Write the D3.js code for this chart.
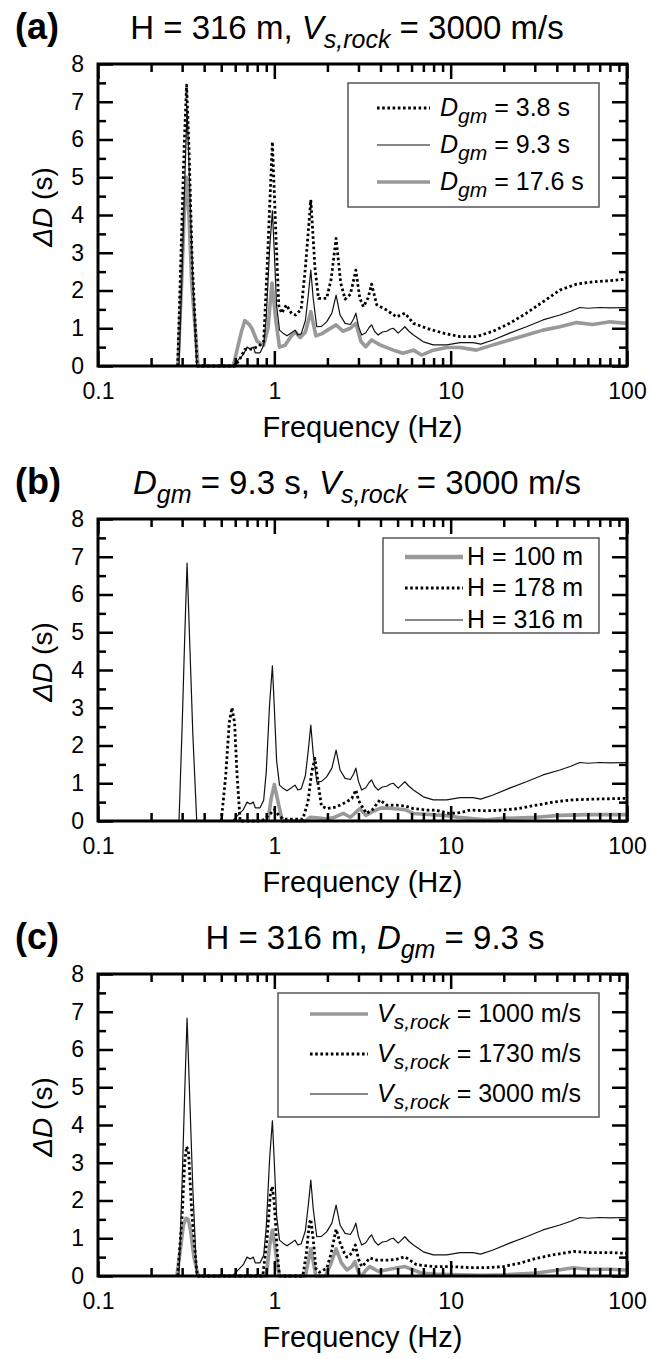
<!DOCTYPE html>
<html>
<head>
<meta charset="utf-8">
<script src="https://cdn.jsdelivr.net/npm/d3@7"></script>
<style>
  body { margin: 0; background: #fff; }
  svg { display: block; font-family: "Liberation Sans", Arial, sans-serif; }
  text { white-space: pre; }
</style>
</head>
<body>
<svg id="chart" width="652" height="1359"></svg>
<script>
/* global d3 */

// ---- data: [frequency (Hz), delta D (s)] ----
// H = 316 m, Dgm = 9.3 s, Vs,rock = 3000 m/s (same run appears in all three panels)
const base316 = [
  [0.288, 0], [0.300, 2.5], [0.310, 4.8], [0.320, 6.83], [0.332, 4.6], [0.345, 2.3], [0.363, 0],
  [0.58, 0], [0.62, 0.15], [0.667, 0.3], [0.70, 0.5], [0.73, 0.45], [0.76, 0.5], [0.78, 0.35],
  [0.83, 0.35], [0.87, 0.55], [0.90, 1.3], [0.94, 3.1], [0.975, 4.11], [1.0, 3.0], [1.03, 1.6],
  [1.07, 0.95], [1.12, 0.87], [1.18, 0.8], [1.25, 0.88], [1.31, 0.95], [1.36, 0.82], [1.42, 0.85],
  [1.5, 1.2], [1.56, 1.9], [1.61, 2.54], [1.66, 1.8], [1.74, 1.04], [1.85, 1.05], [1.98, 1.17],
  [2.12, 1.4], [2.24, 1.88], [2.36, 1.35], [2.52, 1.13], [2.7, 1.1], [2.82, 1.25], [2.9, 1.40],
  [3.0, 1.05], [3.13, 0.82], [3.3, 0.88], [3.45, 1.02], [3.56, 1.09], [3.7, 0.92], [3.88, 0.82],
  [4.1, 0.9], [4.34, 0.92], [4.55, 0.98], [4.73, 1.0], [5.04, 0.87], [5.25, 0.95], [5.5, 1.04],
  [5.8, 0.92], [6.15, 0.82], [7.0, 0.64], [7.97, 0.56], [9.5, 0.56], [11.3, 0.62], [13.4, 0.62],
  [14.8, 0.58], [17.4, 0.69], [21.6, 0.87], [26.9, 1.04], [33.4, 1.22], [41.6, 1.35], [48, 1.45],
  [54, 1.55], [60, 1.53], [70, 1.55], [80, 1.54], [100, 1.55]
];

// panel (a)
const dgm38 = [
  [0.283, 0], [0.295, 2.8], [0.308, 5.8], [0.318, 7.44], [0.328, 5.8], [0.342, 2.8], [0.365, 0],
  [0.60, 0], [0.64, 0.2], [0.68, 0.44], [0.75, 0.45], [0.82, 0.53], [0.87, 0.65], [0.91, 2.6],
  [0.975, 5.94], [1.02, 3.5], [1.06, 1.6], [1.1, 1.4], [1.17, 1.62], [1.25, 1.4], [1.32, 1.35],
  [1.42, 1.5], [1.5, 2.6], [1.61, 4.4], [1.7, 2.6], [1.78, 1.79], [1.98, 1.79], [2.1, 2.3],
  [2.24, 3.38], [2.38, 2.2], [2.52, 1.77], [2.7, 1.9], [2.9, 2.54], [3.05, 1.8], [3.2, 1.57],
  [3.4, 1.8], [3.56, 2.17], [3.81, 1.62], [4.34, 1.48], [4.93, 1.30], [5.5, 1.40], [6.15, 1.13],
  [7.3, 1.0], [9.1, 0.87], [11.3, 0.78], [14.0, 0.78], [17.4, 0.92], [21.6, 1.13], [26.9, 1.40],
  [33.4, 1.70], [41.6, 2.01], [51.8, 2.17], [64.5, 2.23], [80, 2.26], [100, 2.3]
];
const dgm176 = [
  [0.284, 0], [0.298, 2.2], [0.308, 4.0], [0.318, 5.0], [0.328, 4.0], [0.34, 2.2], [0.369, 0],
  [0.585, 0], [0.62, 0.5], [0.65, 0.9], [0.68, 1.2], [0.72, 1.1], [0.745, 1.0], [0.80, 0.65],
  [0.87, 0.55], [0.92, 1.0], [0.97, 2.2], [1.02, 1.2], [1.07, 0.5], [1.15, 0.55], [1.25, 0.8],
  [1.32, 0.9], [1.4, 0.75], [1.5, 0.9], [1.61, 1.44], [1.72, 0.8], [1.85, 0.85], [2.0, 0.95],
  [2.24, 1.09], [2.45, 0.92], [2.7, 1.0], [2.9, 1.13], [3.1, 0.65], [3.3, 0.51], [3.56, 0.69],
  [3.97, 0.56], [4.73, 0.42], [5.35, 0.34], [6.15, 0.42], [6.83, 0.29], [7.97, 0.42], [9.5, 0.49],
  [11.3, 0.49], [14.0, 0.42], [17.4, 0.56], [21.6, 0.69], [26.9, 0.82], [33.4, 0.95], [41.6, 1.04],
  [51.8, 1.15], [64, 1.1], [80, 1.17], [100, 1.13]
];

// panel (b)
const h100 = [
  [0.92, 0], [0.96, 0.6], [1.0, 0.97], [1.05, 0.5], [1.11, 0], [1.5, 0], [1.6, 0.1], [1.8, 0.08],
  [2.0, 0.05], [2.2, 0.1], [2.46, 0.2], [2.7, 0.1], [3.06, 0.33], [3.3, 0.15], [3.6, 0.25],
  [4.0, 0.34], [4.5, 0.34], [5.0, 0.32], [5.5, 0.3], [6.15, 0.2], [9.1, 0.15], [11, 0.1],
  [15.9, 0.03], [20, 0.07], [30.7, 0.1], [41.6, 0.15], [60, 0.17], [100, 0.17]
];
const h178 = [
  [0.50, 0], [0.53, 1.2], [0.555, 2.6], [0.575, 3.0], [0.595, 2.6], [0.615, 1.2], [0.64, 0],
  [0.85, 0], [0.93, 0.15], [1.0, 0.3], [1.06, 0.15], [1.12, 0.05], [1.45, 0.05], [1.55, 0.5],
  [1.63, 1.3], [1.70, 1.66], [1.77, 1.0], [1.85, 0.4], [1.98, 0.33], [2.24, 0.37], [2.58, 0.51],
  [2.75, 0.6], [2.9, 0.82], [3.0, 0.55], [3.13, 0.4], [3.33, 0.2], [3.6, 0.3], [3.97, 0.56],
  [4.34, 0.42], [4.93, 0.42], [5.5, 0.4], [6.15, 0.33], [7.3, 0.29], [8.2, 0.29], [9.8, 0.2],
  [11.3, 0.22], [12.9, 0.29], [15.9, 0.27], [19.8, 0.29], [24.4, 0.33], [30.7, 0.42], [37.9, 0.5],
  [49, 0.56], [64.5, 0.58], [100, 0.6]
];

// panel (c)
const vs1000 = [
  [0.28, 0], [0.295, 0.8], [0.305, 1.35], [0.315, 1.53], [0.325, 1.5], [0.335, 1.2], [0.35, 0.5],
  [0.37, 0], [0.9, 0], [0.94, 0.8], [0.975, 1.22], [1.0, 0.9], [1.04, 0.3], [1.07, 0], [1.5, 0],
  [1.56, 0.4], [1.61, 0.72], [1.66, 0.4], [1.72, 0], [1.95, 0], [2.1, 0.35], [2.24, 0.72],
  [2.4, 0.35], [2.58, 0.16], [2.75, 0.25], [2.86, 0.38], [3.0, 0.1], [3.13, 0], [3.3, 0.15],
  [3.48, 0.25], [3.9, 0.12], [4.5, 0.18], [5.5, 0.25], [6.8, 0.08], [8, 0.05], [10, 0.04],
  [15, 0.02], [20, 0.03], [30.7, 0.08], [40, 0.15], [49.7, 0.22], [60, 0.18], [80, 0.18], [100, 0.16]
];
const vs1730 = [
  [0.283, 0], [0.30, 1.6], [0.31, 3.0], [0.318, 3.43], [0.326, 3.3], [0.34, 1.7], [0.365, 0],
  [0.86, 0], [0.91, 1.0], [0.95, 2.2], [0.975, 2.37], [1.0, 1.9], [1.04, 0.6], [1.07, 0],
  [1.45, 0], [1.52, 0.6], [1.58, 1.4], [1.61, 1.5], [1.66, 1.0], [1.72, 0.2], [1.8, 0.1],
  [1.98, 0.2], [2.1, 0.6], [2.24, 1.24], [2.35, 0.9], [2.5, 0.6], [2.58, 0.5], [2.75, 0.6],
  [2.88, 0.82], [3.0, 0.45], [3.13, 0.25], [3.3, 0.35], [3.48, 0.48], [3.81, 0.42], [4.5, 0.42],
  [5.0, 0.45], [5.5, 0.51], [6.4, 0.3], [7.97, 0.25], [10.2, 0.25], [12.9, 0.22], [16, 0.22],
  [19.9, 0.25], [24.7, 0.34], [30.7, 0.47], [38.1, 0.56], [49.7, 0.65], [62, 0.62], [80, 0.62],
  [100, 0.6]
];

// ---- ticks ----
const X_MAJOR = [0.1, 1, 10, 100];
const X_MINOR = [2, 3, 4, 5, 6, 7, 8, 9].flatMap(d => [d / 10, d, d * 10]);
const Y_MAJOR = [0, 1, 2, 3, 4, 5, 6, 7, 8];
const Y_MINOR = [0.5, 1.5, 2.5, 3.5, 4.5, 5.5, 6.5, 7.5];

// ---- layout ----
const X_LEFT = 98;
const X_RIGHT = 627;
const PANEL_H = 302;
const FONT = {tick: 23, axis: 29, title: 33, titleSub: 25, tag: 36, legend: 25, legendSub: 21};

const STYLE = {
  dotted: {stroke: '#000', width: 2.8, dash: '2.6,2.6'},
  thin: {stroke: '#111', width: 1.2, dash: null},
  gray: {stroke: '#999', width: 3.6, dash: null}
};

const panels = [
  {
    tag: '(a)', top: 64, titleX: 347,
    title: [{t: 'H = 316 m, '}, {t: 'V', i: true}, {t: 's,rock', i: true, sub: true}, {t: ' = 3000 m/s'}],
    series: [
      {data: dgm176, style: 'gray'},
      {data: dgm38, style: 'dotted'},
      {data: base316, style: 'thin'}
    ],
    legend: {x0: 348, x1: 599, y0: 19, y1: 143, lineX: [377, 430], textX: 440, rows: [44, 81, 118]},
    entries: [
      {style: 'dotted', label: [{t: 'D', i: true}, {t: 'gm', i: true, sub: true}, {t: ' = 3.8 s'}]},
      {style: 'thin', label: [{t: 'D', i: true}, {t: 'gm', i: true, sub: true}, {t: ' = 9.3 s'}]},
      {style: 'gray', label: [{t: 'D', i: true}, {t: 'gm', i: true, sub: true}, {t: ' = 17.6 s'}]}
    ]
  },
  {
    tag: '(b)', top: 519, titleX: 357,
    title: [{t: 'D', i: true}, {t: 'gm', i: true, sub: true}, {t: ' = 9.3 s, '}, {t: 'V', i: true},
      {t: 's,rock', i: true, sub: true}, {t: ' = 3000 m/s'}],
    series: [
      {data: h100, style: 'gray'},
      {data: h178, style: 'dotted'},
      {data: base316, style: 'thin'}
    ],
    legend: {x0: 383, x1: 599, y0: 19, y1: 114, lineX: [405, 463], textX: 467, rows: [38, 69, 101]},
    entries: [
      {style: 'gray', thick: true, label: [{t: 'H = 100 m'}]},
      {style: 'dotted', label: [{t: 'H = 178 m'}]},
      {style: 'thin', label: [{t: 'H = 316 m'}]}
    ]
  },
  {
    tag: '(c)', top: 974, titleX: 375,
    title: [{t: 'H = 316 m, '}, {t: 'D', i: true}, {t: 'gm', i: true, sub: true}, {t: ' = 9.3 s'}],
    series: [
      {data: vs1000, style: 'gray'},
      {data: vs1730, style: 'dotted'},
      {data: base316, style: 'thin'}
    ],
    legend: {x0: 278, x1: 599, y0: 19, y1: 143, lineX: [310, 368], textX: 377, rows: [40, 80, 120]},
    entries: [
      {style: 'gray', label: [{t: 'V', i: true}, {t: 's,rock', i: true, sub: true}, {t: ' = 1000 m/s'}]},
      {style: 'dotted', label: [{t: 'V', i: true}, {t: 's,rock', i: true, sub: true}, {t: ' = 1730 m/s'}]},
      {style: 'thin', label: [{t: 'V', i: true}, {t: 's,rock', i: true, sub: true}, {t: ' = 3000 m/s'}]}
    ]
  }
];

const $svg = d3.select('#chart');

// text with italic parts and subscripts
function richText($parent, x, y, anchor, size, subSize, shift, parts) {
  const $t = $parent.append('text')
    .attr('x', x)
    .attr('y', y)
    .attr('text-anchor', anchor)
    .attr('font-size', size)
    .attr('fill', '#000');
  let offset = 0;
  parts.forEach(p => {
    const target = p.sub ? shift : 0;
    $t.append('tspan')
      .attr('dy', target - offset)
      .attr('font-size', p.sub ? subSize : size)
      .attr('font-style', p.i ? 'italic' : 'normal')
      .text(p.t);
    offset = target;
  });
  return $t;
}

function applyStyle($sel, name, thick) {
  const s = STYLE[name];
  $sel.attr('fill', 'none')
    .attr('stroke', s.stroke)
    .attr('stroke-width', thick ? s.width + 1 : s.width)
    .attr('stroke-dasharray', s.dash)
    .attr('stroke-linejoin', 'round');
}

function drawPanel(p) {
  const bottom = p.top + PANEL_H;
  const scaleX = d3.scaleLog().domain([0.1, 100]).range([X_LEFT, X_RIGHT]);
  const scaleY = d3.scaleLinear().domain([0, 8]).range([bottom, p.top]);
  const $g = $svg.append('g').attr('class', 'panel');

  // lines
  const line = d3.line()
    .x(d => scaleX(d[0]))
    .y(d => scaleY(d[1]));
  p.series.forEach(s => {
    $g.append('path')
      .datum(s.data)
      .attr('d', line)
      .call(applyStyle, s.style);
  });

  // axes, ticks pointing inward
  const blank = () => '';
  const axes = [
    {ax: d3.axisBottom(scaleX).tickValues(X_MAJOR).tickSize(-15).tickPadding(17).tickFormat(d => String(d)), tr: `translate(0,${bottom})`},
    {ax: d3.axisBottom(scaleX).tickValues(X_MINOR).tickSize(-8).tickFormat(blank), tr: `translate(0,${bottom})`},
    {ax: d3.axisTop(scaleX).tickValues(X_MAJOR).tickSize(-15).tickFormat(blank), tr: `translate(0,${p.top})`},
    {ax: d3.axisTop(scaleX).tickValues(X_MINOR).tickSize(-8).tickFormat(blank), tr: `translate(0,${p.top})`},
    {ax: d3.axisLeft(scaleY).tickValues(Y_MAJOR).tickSize(-15).tickPadding(14).tickFormat(d3.format('d')), tr: `translate(${X_LEFT},0)`},
    {ax: d3.axisLeft(scaleY).tickValues(Y_MINOR).tickSize(-8).tickFormat(blank), tr: `translate(${X_LEFT},0)`},
    {ax: d3.axisRight(scaleY).tickValues(Y_MAJOR).tickSize(-15).tickFormat(blank), tr: `translate(${X_RIGHT},0)`},
    {ax: d3.axisRight(scaleY).tickValues(Y_MINOR).tickSize(-8).tickFormat(blank), tr: `translate(${X_RIGHT},0)`}
  ];
  axes.forEach(a => {
    const $a = $g.append('g').attr('transform', a.tr).call(a.ax);
    $a.select('.domain').remove();
    $a.selectAll('line').attr('stroke', '#000').attr('stroke-width', 2.5);
    $a.selectAll('text')
      .attr('font-size', FONT.tick)
      .attr('font-family', '"Liberation Sans", Arial, sans-serif')
      .attr('fill', '#000');
  });

  // frame
  $g.append('rect')
    .attr('x', X_LEFT)
    .attr('y', p.top)
    .attr('width', X_RIGHT - X_LEFT)
    .attr('height', PANEL_H)
    .attr('fill', 'none')
    .attr('stroke', '#000')
    .attr('stroke-width', 3);

  // axis titles
  $g.append('text')
    .attr('x', (X_LEFT + X_RIGHT) / 2)
    .attr('y', bottom + 71)
    .attr('text-anchor', 'middle')
    .attr('font-size', FONT.axis)
    .text('Frequency (Hz)');

  const $yl = $g.append('text')
    .attr('transform', `translate(52,${p.top + PANEL_H / 2 - 8}) rotate(-90)`)
    .attr('text-anchor', 'middle')
    .attr('font-size', 28);
  $yl.append('tspan').attr('font-style', 'italic').text('ΔD');
  $yl.append('tspan').text(' (s)');

  // titles
  $g.append('text')
    .attr('x', 15)
    .attr('y', p.top - 25)
    .attr('font-size', FONT.tag)
    .attr('font-weight', 'bold')
    .text(p.tag);
  richText($g, p.titleX, p.top - 25, 'middle', FONT.title, FONT.titleSub, 9, p.title);

  // legend
  const L = p.legend;
  $g.append('rect')
    .attr('x', L.x0)
    .attr('y', p.top + L.y0)
    .attr('width', L.x1 - L.x0)
    .attr('height', L.y1 - L.y0)
    .attr('fill', '#fff')
    .attr('stroke', '#555')
    .attr('stroke-width', 1.5);
  p.entries.forEach((e, i) => {
    const yy = p.top + L.rows[i];
    $g.append('line')
      .attr('x1', L.lineX[0])
      .attr('x2', L.lineX[1])
      .attr('y1', yy)
      .attr('y2', yy)
      .call(applyStyle, e.style, e.thick);
    richText($g, L.textX, yy + 8, 'start', FONT.legend, FONT.legendSub, 7, e.label);
  });
}

panels.forEach(drawPanel);
</script>
</body>
</html>
